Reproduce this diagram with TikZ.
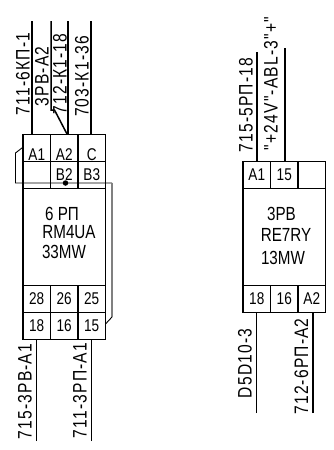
\documentclass[tikz,border=0pt]{standalone}
\usepackage{fontspec}
\setmainfont[FakeStretch=0.8]{Liberation Sans}
\newfontfamily\wirefont[FakeStretch=0.8,LetterSpace=6]{Liberation Sans}
\usepackage{tikz}

\begin{document}
\begin{tikzpicture}[
    x=1pt, y=-1pt,
    cell/.style={rectangle, draw, line width=1.5pt, minimum width=27.5pt, minimum height=27pt, inner sep=0pt, font=\fontsize{17}{17}\selectfont},
    celldown/.style={cell, text height=25pt, text depth=0pt},
    cellup/.style={cell, text height=19pt, text depth=7pt, anchor=center},
    body/.style={rectangle, draw, line width=1.5pt, minimum width=82.5pt, minimum height=97pt, inner sep=0pt},
    title/.style={inner sep=0pt, font=\fontsize{19}{19}\selectfont},
    wirelabel/.style={rotate=90, inner sep=0pt, font=\wirefont\fontsize{19.5}{19.5}\selectfont},
    wire/.style={line width=1.5pt},
    bridge/.style={line width=0.9pt}
]
    \useasboundingbox (0,0) rectangle (334,450);

    % Relay 6RP
    \node[celldown] (a1) at (36.75,147.75) {A1};
    \node[celldown] (a2) at (64.25,147.75) {A2};
    \node[celldown] (c) at (91.75,147.75) {C};
    \node[cell] (blank) at (36.75,174.75) {};
    \node[cellup] (b2) at (64.25,174.75) {B2};
    \node[cellup] (b3) at (91.75,174.75) {B3};
    \node[body] (relay6) at (64.25,236.75) {};
    \node[title] (name6) at (62,213.5) {6 РП};
    \node[title] (type6) at (69,232.5) {RM4UA};
    \node[title] (code6) at (64,251.5) {33MW};
    \node[cell] (c28) at (36.75,298.75) {28};
    \node[cell] (c26) at (64.25,298.75) {26};
    \node[cell] (c25) at (91.75,298.75) {25};
    \node[cell] (c18) at (36.75,325.75) {18};
    \node[cell] (c16) at (64.25,325.75) {16};
    \node[cell] (c15) at (91.75,325.75) {15};

    % Relay 3RV
    \node[cell] (ra1) at (256.75,174.75) {A1};
    \node[cell] (r15) at (284.25,174.75) {15};
    \node[cell] (rblank) at (311.75,174.75) {};
    \node[body] (relay3) at (284.25,236.75) {};
    \node[title] (name3) at (281.5,213.5) {3РВ};
    \node[title] (type3) at (286,234.5) {RE7RY};
    \node[title] (code3) at (283,258) {13MW};
    \node[cell] (r18) at (256.75,298.75) {18};
    \node[cell] (r16) at (284.25,298.75) {16};
    \node[cell] (ra2) at (311.75,298.75) {A2};

    % Wire ends
    \coordinate (t711) at (32,21);
    \coordinate (t3rv) at (51,21);
    \coordinate (t3rvbend) at (51,110);
    \coordinate (t3rvdiag) at (54.5,110);
    \coordinate (t3rvend) at (67,134);
    \coordinate (t712) at (68,21);
    \coordinate (t703) at (91,21);
    \coordinate (b715) at (36.5,441);
    \coordinate (b711) at (91.5,441);
    \coordinate (t715) at (257,52);
    \coordinate (t24v) at (285,48);
    \coordinate (bd5) at (256.5,413);
    \coordinate (b712) at (313,413);

    % Bridge between A1 and 15
    \coordinate (brleft) at (15.5,153);
    \coordinate (brlow) at (15.5,183);
    \coordinate (brright) at (112,183);
    \coordinate (brdown) at (112,317);
    \coordinate (brend) at (105.5,324);

    % Wires
    \draw[wire] (t711) -- (t711 |- a1.north);
    \draw[wire] (t3rv) -- (t3rvbend) -- (t3rvdiag) -- (t3rvend);
    \draw[wire] (t712) -- (t712 |- a2.north);
    \draw[wire] (t703) -- (t703 |- c.north);
    \draw[wire] (b715) -- (b715 |- c18.south);
    \draw[wire] (b711) -- (b711 |- c15.south);
    \draw[wire] (t715) -- (t715 |- ra1.north);
    \draw[wire] (t24v) -- (t24v |- r15.north);
    \draw[wire] (bd5) -- (bd5 |- r18.south);
    \draw[wire] (b712) -- (b712 |- ra2.south);
    \draw[bridge] (a1.west) -- (brleft) -- (brlow) -- (brright);
    \draw[bridge, gray, line width=1.3pt] (brright) -- (brdown);
    \draw[bridge] (brdown) -- (brend);
    \node[circle, fill, inner sep=0pt, minimum size=5.5pt] (dot) at (65.5,183) {};

    % Wire labels
    \node[wirelabel] (l711) at (23,74) {711-6КП-1};
    \node[wirelabel] (l3rv) at (42,76.5) {3РВ-А2};
    \node[wirelabel] (l712) at (60,74) {712-К1-18};
    \node[wirelabel] (l703) at (82,76.5) {703-К1-36};
    \node[wirelabel] (l715) at (25,391.5) {715-3РВ-А1};
    \node[wirelabel] (l7113) at (80,390.5) {711-3РП-А1};
    \node[wirelabel] (l7155) at (246,105) {715-5РП-18};
    \node[wirelabel] (l24v) at (271,83.5) {"+24V"-ABL-3"+"};
    \node[wirelabel] (ld5) at (245,363.5) {D5D10-3};
    \node[wirelabel] (l7126) at (301.5,366.5) {712-6РП-А2};
\end{tikzpicture}
\end{document}
